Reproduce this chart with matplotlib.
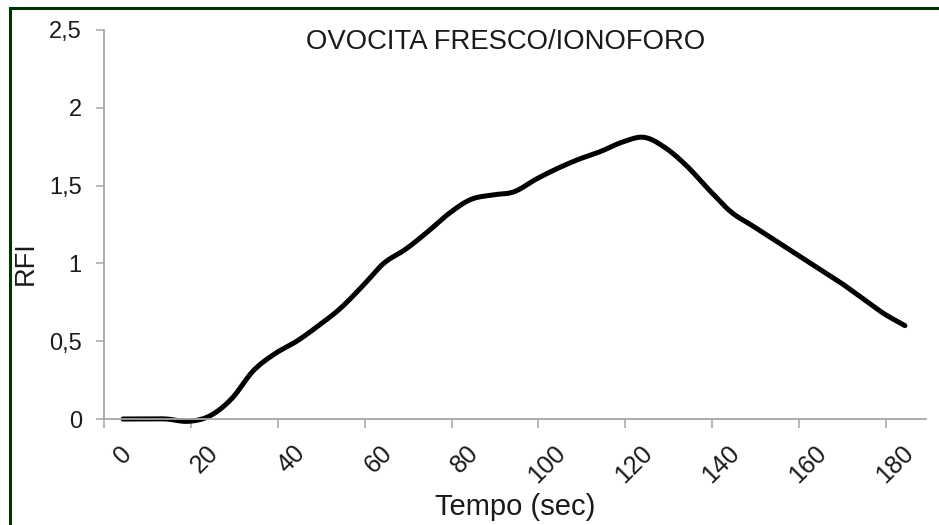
import numpy as np
import matplotlib
matplotlib.use("Agg")
import matplotlib.pyplot as plt
from matplotlib.patches import Rectangle
from matplotlib.transforms import ScaledTranslation

# Relative fluorescence intensity over time
tempo = [0, 5, 10, 15, 20, 25, 30, 35, 40, 45, 50, 55, 60, 65, 70, 75, 80, 85, 90,
         95, 100, 105, 110, 115, 120, 125, 130, 135, 140, 145, 150, 155, 160, 165,
         170, 175, 180]
rfi = [0.00, 0.00, 0.00, -0.015, 0.02, 0.13, 0.31, 0.42, 0.50, 0.60, 0.71, 0.85,
       1.00, 1.09, 1.20, 1.32, 1.41, 1.44, 1.46, 1.54, 1.61, 1.67, 1.72, 1.78,
       1.81, 1.74, 1.62, 1.47, 1.33, 1.24, 1.15, 1.06, 0.97, 0.88, 0.78, 0.68,
       0.60]

x_labels = ["0", "20", "40", "60", "80", "100", "120", "140", "160", "180"]
x_label_pos = [0, 20, 40, 60, 80, 100, 120, 140, 160, 180]
y_ticks = [0, 0.5, 1.0, 1.5, 2.0, 2.5]
y_labels = ["0", "0,5", "1", "1,5", "2", "2,5"]

title = "OVOCITA FRESCO/IONOFORO"
xlabel = "Tempo (sec)"
ylabel = "RFI"


def catmull_rom(x, y, n=24):
    """Smooth curve through the points (uniform Catmull-Rom)."""
    p = np.column_stack([x, y]).astype(float)
    p = np.vstack([p[0], p, p[-1]])
    out = []
    s = np.linspace(0, 1, n, endpoint=False)[:, None]
    for i in range(1, len(p) - 2):
        p0, p1, p2, p3 = p[i - 1], p[i], p[i + 1], p[i + 2]
        seg = 0.5 * (2 * p1 + (-p0 + p2) * s
                     + (2 * p0 - 5 * p1 + 4 * p2 - p3) * s ** 2
                     + (-p0 + 3 * p1 - 3 * p2 + p3) * s ** 3)
        out.append(seg)
    out.append(p[-2][None, :])
    out = np.vstack(out)
    return out[:, 0], out[:, 1]


plt.rcParams["font.family"] = ["Liberation Sans", "DejaVu Sans"]

W, H = 939, 525
fig = plt.figure(figsize=(W / 100, H / 100), dpi=100)
fig.patch.set_facecolor("white")

ax = fig.add_axes([104 / W, 1 - 419 / H, (926 - 104) / W, (419 - 30) / H])
ax.set_facecolor("white")

axis_grey = "#a6a6a6"
for side in ("top", "right"):
    ax.spines[side].set_visible(False)
for side in ("left", "bottom"):
    ax.spines[side].set_color(axis_grey)
    ax.spines[side].set_linewidth(1.3)

xs, ys = catmull_rom(tempo, rfi)
ax.plot(xs, ys, color="black", linewidth=3.6, solid_capstyle="round",
        solid_joinstyle="round", clip_on=False)

ax.set_xlim(-4.37, 184.85)
ax.set_ylim(0, 2.5)

# y axis
ax.set_yticks(y_ticks)
ax.set_yticklabels(y_labels, fontsize=17, color="#1a1a1a")
ax.tick_params(axis="y", direction="out", length=6, width=1.1, color=axis_grey, pad=10)

# x axis: tick marks between categories, labels at the category positions
ax.set_xticks(x_label_pos)
ax.set_xticklabels(x_labels, fontsize=18, color="#1a1a1a", rotation=45,
                   ha="right", va="top", rotation_mode="anchor")
ax.tick_params(axis="x", which="major", length=0, pad=16)
ax.set_xticks([v - 4.37 for v in x_label_pos], minor=True)
ax.tick_params(axis="x", which="minor", direction="out", length=6.5, width=1.1,
               color=axis_grey)
shift = ScaledTranslation(-4 / 100, 0, fig.dpi_scale_trans)
for lab in ax.get_xticklabels():
    lab.set_transform(lab.get_transform() + shift)

fig.text(506 / W, 1 - 42 / H, title, ha="center", va="center", fontsize=19.8,
         color="#1a1a1a")
fig.text(515 / W, 1 - 515 / H, xlabel, ha="center", va="baseline", fontsize=21,
         color="#1a1a1a")
fig.text(26 / W, 1 - 263 / H, ylabel, ha="center", va="center", rotation=90,
         fontsize=19.5, color="#1a1a1a")

# dark green frame around the chart area
fig.patches.append(Rectangle((9.5 / W, -0.2), 1.2, 1.2 - 8 / H,
                             transform=fig.transFigure, fill=False,
                             edgecolor="#003300", linewidth=2.2, zorder=10))

fig.savefig("out.png", dpi=100, facecolor="white")
